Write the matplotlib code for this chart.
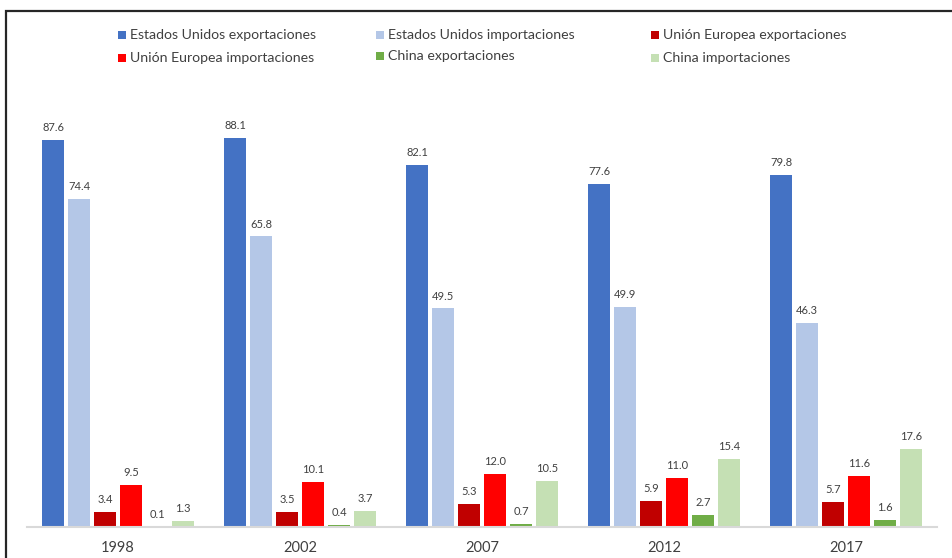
import matplotlib
matplotlib.use("Agg")
import matplotlib.pyplot as plt
from matplotlib.patches import Rectangle
import numpy as np

years = ["1998", "2002", "2007", "2012", "2017"]
series_names = [
    "Estados Unidos exportaciones",
    "Estados Unidos importaciones",
    "Unión Europea exportaciones",
    "Unión Europea importaciones",
    "China exportaciones",
    "China importaciones",
]
us_exp = [87.6, 88.1, 82.1, 77.6, 79.8]
us_imp = [74.4, 65.8, 49.5, 49.9, 46.3]
eu_exp = [3.4, 3.5, 5.3, 5.9, 5.7]
eu_imp = [9.5, 10.1, 12.0, 11.0, 11.6]
cn_exp = [0.1, 0.4, 0.7, 2.7, 1.6]
cn_imp = [1.3, 3.7, 10.5, 15.4, 17.6]
colors = ["#4472C4", "#B4C7E7", "#C00000", "#FF0000", "#70AD47", "#C5E0B4"]

plt.rcParams['font.family'] = ['Lato', 'DejaVu Sans']

W, H = 952, 558
fig = plt.figure(figsize=(W / 100, H / 100), dpi=100)

# outer frame
fig.patches.append(Rectangle((6 / W, -0.1), 1.2, (H - 11) / H + 0.1,
                             transform=fig.transFigure, fill=False,
                             edgecolor="#262626", linewidth=1.6, zorder=0))

ax = fig.add_axes([27 / W, (H - 527) / H, 910 / W, (527 - 85.5) / H])
data = [us_exp, us_imp, eu_exp, eu_imp, cn_exp, cn_imp]
x = np.arange(len(years))
step = 1 / 7
bw = step * 0.81
for i, (vals, c) in enumerate(zip(data, colors)):
    pos = x + (i - 2.5) * step
    bars = ax.bar(pos, vals, width=bw, color=c, zorder=2)
    for b, v in zip(bars, vals):
        ax.annotate(f"{v:.1f}", (b.get_x() + b.get_width() / 2, v),
                    xytext=(0, 5), textcoords="offset points",
                    ha="center", va="bottom", fontsize=8, color="#404040")

ax.set_xlim(-0.5, 4.5)
ax.set_ylim(0, 100)
ax.set_yticks([])
ax.set_xticks(x)
ax.set_xticklabels(years, fontsize=10.5, color="#404040")
ax.tick_params(axis="x", length=0, pad=10)
for s in ["top", "right", "left"]:
    ax.spines[s].set_visible(False)
ax.spines["bottom"].set_color("#D9D9D9")
ax.spines["bottom"].set_linewidth(1.5)
ax.set_facecolor("none")

# legend (manual)
leg_pos = [(118, 35), (376, 35), (651, 35), (118, 58), (376, 56), (651, 58)]
for (px, py), name, c in zip(leg_pos, series_names, colors):
    fig.patches.append(Rectangle((px / W, (H - py - 4) / H), 8 / W, 8 / H,
                                 transform=fig.transFigure, facecolor=c,
                                 edgecolor="none"))
    fig.text((px + 12) / W, (H - py) / H, name, fontsize=10.2,
             color="#404040", va="center", ha="left")

fig.savefig("out.png", dpi=100)
